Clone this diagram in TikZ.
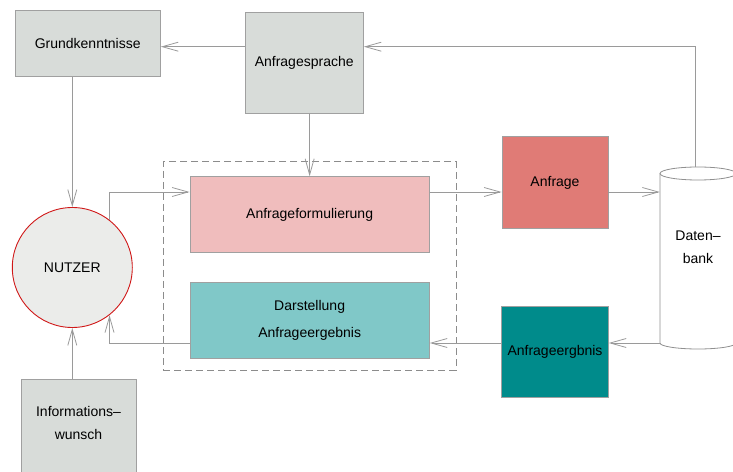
\documentclass[tikz,border=0pt]{standalone}
\usepackage{fontspec}
\setmainfont{Liberation Sans}
\usetikzlibrary{arrows.meta,calc}
\definecolor{boxgray}{HTML}{D8DCD9}
\definecolor{edgegray}{HTML}{A0A0A0}
\definecolor{linegray}{HTML}{9A9A9A}
\definecolor{dashgray}{HTML}{8C8C8C}
\definecolor{cylgray}{HTML}{909090}
\definecolor{pinkfill}{HTML}{F0BDBD}
\definecolor{tealfill}{HTML}{80C8C8}
\definecolor{redfill}{HTML}{E07B76}
\definecolor{darkteal}{HTML}{008B8B}
\definecolor{nutzfill}{HTML}{EBECEA}
\definecolor{nutzedge}{HTML}{D01818}
\begin{document}
\begin{tikzpicture}[x=1bp,y=-1bp,
  font=\fontsize{14bp}{16bp}\selectfont,
  box/.style={draw=edgegray, line width=0.9bp, inner sep=0pt, align=center},
  arr/.style={draw=linegray, line width=0.8bp, -{Straight Barb[length=16bp,width=9bp,line width=0.8bp]}},
  txt/.style={inner sep=0pt, align=center}
]
\useasboundingbox (0,0) rectangle (733,472);
\coordinate (r0) at (0,46.7);
\coordinate (r1) at (0,192);
\coordinate (r2) at (0,343);

% dashed group
\node[draw=dashgray, line width=0.8bp, dash pattern=on 7bp off 4bp, minimum width=292.7bp, minimum height=208.3bp, inner sep=0pt] (grp) at (309.65,265.85) {};

% boxes
\node[box, fill=boxgray, minimum width=145.3bp, minimum height=66.7bp] (gk) at (87.7,43.4) {Grundkenntnisse};
\node[box, fill=boxgray, minimum width=118.3bp, minimum height=101bp] (as) at (304.2,62.8) {Anfragesprache};
\node[circle, draw=nutzedge, fill=nutzfill, line width=0.9bp, minimum size=120bp, inner sep=0pt] (nu) at (72.3,267.5) {NUTZER};
\node[box, fill=boxgray, minimum width=115.3bp, minimum height=120bp, anchor=north] (iw) at (78.7,379.3) {};
\node[txt] (iwt) at (78.5,423) {Informations–\\[7.6bp]wunsch};
\node[box, fill=pinkfill, minimum width=239.3bp, minimum height=75.6bp] (af) at (309.65,214.5) {Anfrageformulierung};
\node[box, fill=tealfill, minimum width=239.3bp, minimum height=75.7bp] (ds) at (309.65,320.15) {Darstellung\\[11.3bp]Anfrageergebnis};
\node[box, fill=redfill, minimum width=106bp, minimum height=91.6bp] (an) at (555,182.5) {Anfrage};
\node[box, fill=darkteal, minimum width=106.6bp, minimum height=90.6bp] (ae) at (555,352) {Anfrageergbnis};

% database cylinder
\node[inner sep=0pt, minimum width=76bp, minimum height=182bp] (db) at (698,258) {};
\draw[draw=cylgray, line width=0.8bp, fill=white] (660,173.5) -- (660,343) arc[start angle=180, end angle=360, x radius=38bp, y radius=6bp] -- (736,173.5);
\draw[draw=cylgray, line width=0.8bp, fill=white] (698,173.5) ellipse [x radius=38bp, y radius=6.5bp];
\node[txt] (dbt) at (698,247) {Daten–\\[6.7bp]bank};

% connectors
\draw[arr] ([xshift=-3bp]db.north) |- (as.east |- r0);
\draw[arr] (as.west |- r0) -- (gk.east |- r0);
\draw[arr] (af.north |- as.south) -- (af.north);
\draw[arr] (nu.north |- gk.south) -- (nu.north);
\draw[arr] (nu.south |- iw.north) -- (nu.south);
\draw[arr] (nu.52) |- (af.west |- r1);
\draw[arr] (ds.west |- r2) -| (nu.-52);
\draw[arr] (af.east |- r1) -- (an.west |- r1);
\draw[arr] (an.east |- r1) -- (db.west |- r1);
\draw[arr] (db.west |- r2) -- (ae.east |- r2);
\draw[arr] (ae.west |- r2) -- (ds.east |- r2);
\end{tikzpicture}
\end{document}
